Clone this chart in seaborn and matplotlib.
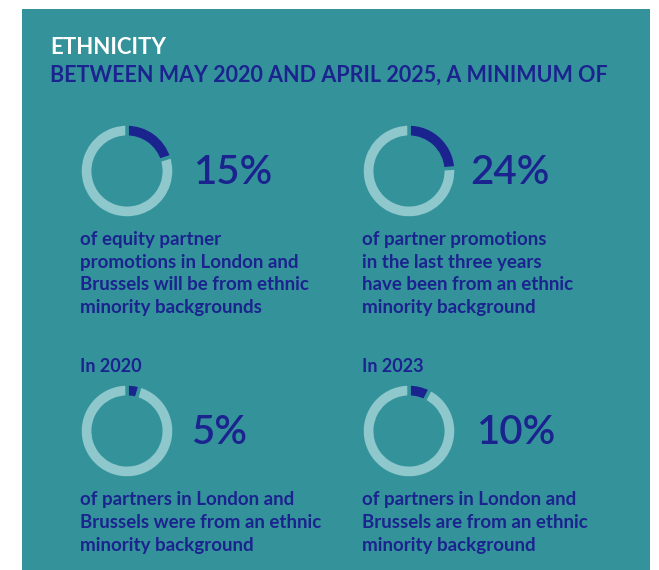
import matplotlib
matplotlib.use("Agg")
import matplotlib.pyplot as plt
from matplotlib.patches import Rectangle
import seaborn as sns

sns.set_theme(style="white")
plt.rcParams['font.family'] = ['Lato', 'DejaVu Sans']

# ---- data ----
title = "ETHNICITY"
subtitle = "BETWEEN MAY 2020 AND APRIL 2025, A MINIMUM OF"
pct_labels = ["15%", "24%", "5%", "10%"]
ring_values = [20, 24, 4.5, 7.5]          # share of ring drawn dark
year_labels = ["", "", "In 2020", "In 2023"]
descriptions = [
    ["of equity partner", "promotions in London and",
     "Brussels will be from ethnic", "minority backgrounds"],
    ["of partner promotions", "in the last three years",
     "have been from an ethnic", "minority background"],
    ["of partners in London and", "Brussels were from an ethnic",
     "minority background"],
    ["of partners in London and", "Brussels are from an ethnic",
     "minority background"],
]

TEAL = "#34939A"
NAVY = "#1B238F"
LIGHT = "#8FC8CC"

W, H = 659, 570
fig = plt.figure(figsize=(W / 100, H / 100), dpi=100)
fig.patch.set_facecolor("white")
ax = fig.add_axes([0, 0, 1, 1])
ax.set_xlim(0, W)
ax.set_ylim(H, 0)
ax.axis("off")
ax.add_patch(Rectangle((22, 9), 628, H - 9, facecolor=TEAL, edgecolor="none"))

ax.text(50, 47, title, color="white", fontsize=16, fontweight="bold", va="center")
ax.text(50, 75, subtitle, color=NAVY, fontsize=15.5, fontweight="bold", va="center")

centers = [(127, 171), (409, 171), (127, 431), (409, 431)]
r = 47
text_x = [80, 362, 80, 362]
pct_x = [193, 470, 191, 476]
desc_y0 = [240, 240, 500, 500]
line_h = 22.5

for i, (cx, cy) in enumerate(centers):
    dax = fig.add_axes([(cx - r) / W, 1 - (cy + r) / H, 2 * r / W, 2 * r / H])
    dax.pie([ring_values[i], 100 - ring_values[i]], colors=[NAVY, LIGHT],
            startangle=90, counterclock=False, radius=1,
            wedgeprops=dict(width=0.28, edgecolor=TEAL, linewidth=2.5))
    dax.set_xlim(-1.0, 1.0)
    dax.set_ylim(-1.0, 1.0)
    dax.set_aspect("equal")
    dax.axis("off")

    ax.text(pct_x[i], cy + 1, pct_labels[i], color=NAVY, fontsize=29,
            fontweight="semibold", va="center", ha="left")
    if year_labels[i]:
        ax.text(text_x[i], 366, year_labels[i], color=NAVY, fontsize=13,
                fontweight="bold", va="center")
    for j, line in enumerate(descriptions[i]):
        ax.text(text_x[i], desc_y0[i] + j * line_h, line, color=NAVY,
                fontsize=13.5, fontweight="bold", va="center")

fig.savefig("out.png", dpi=100, facecolor="white")
